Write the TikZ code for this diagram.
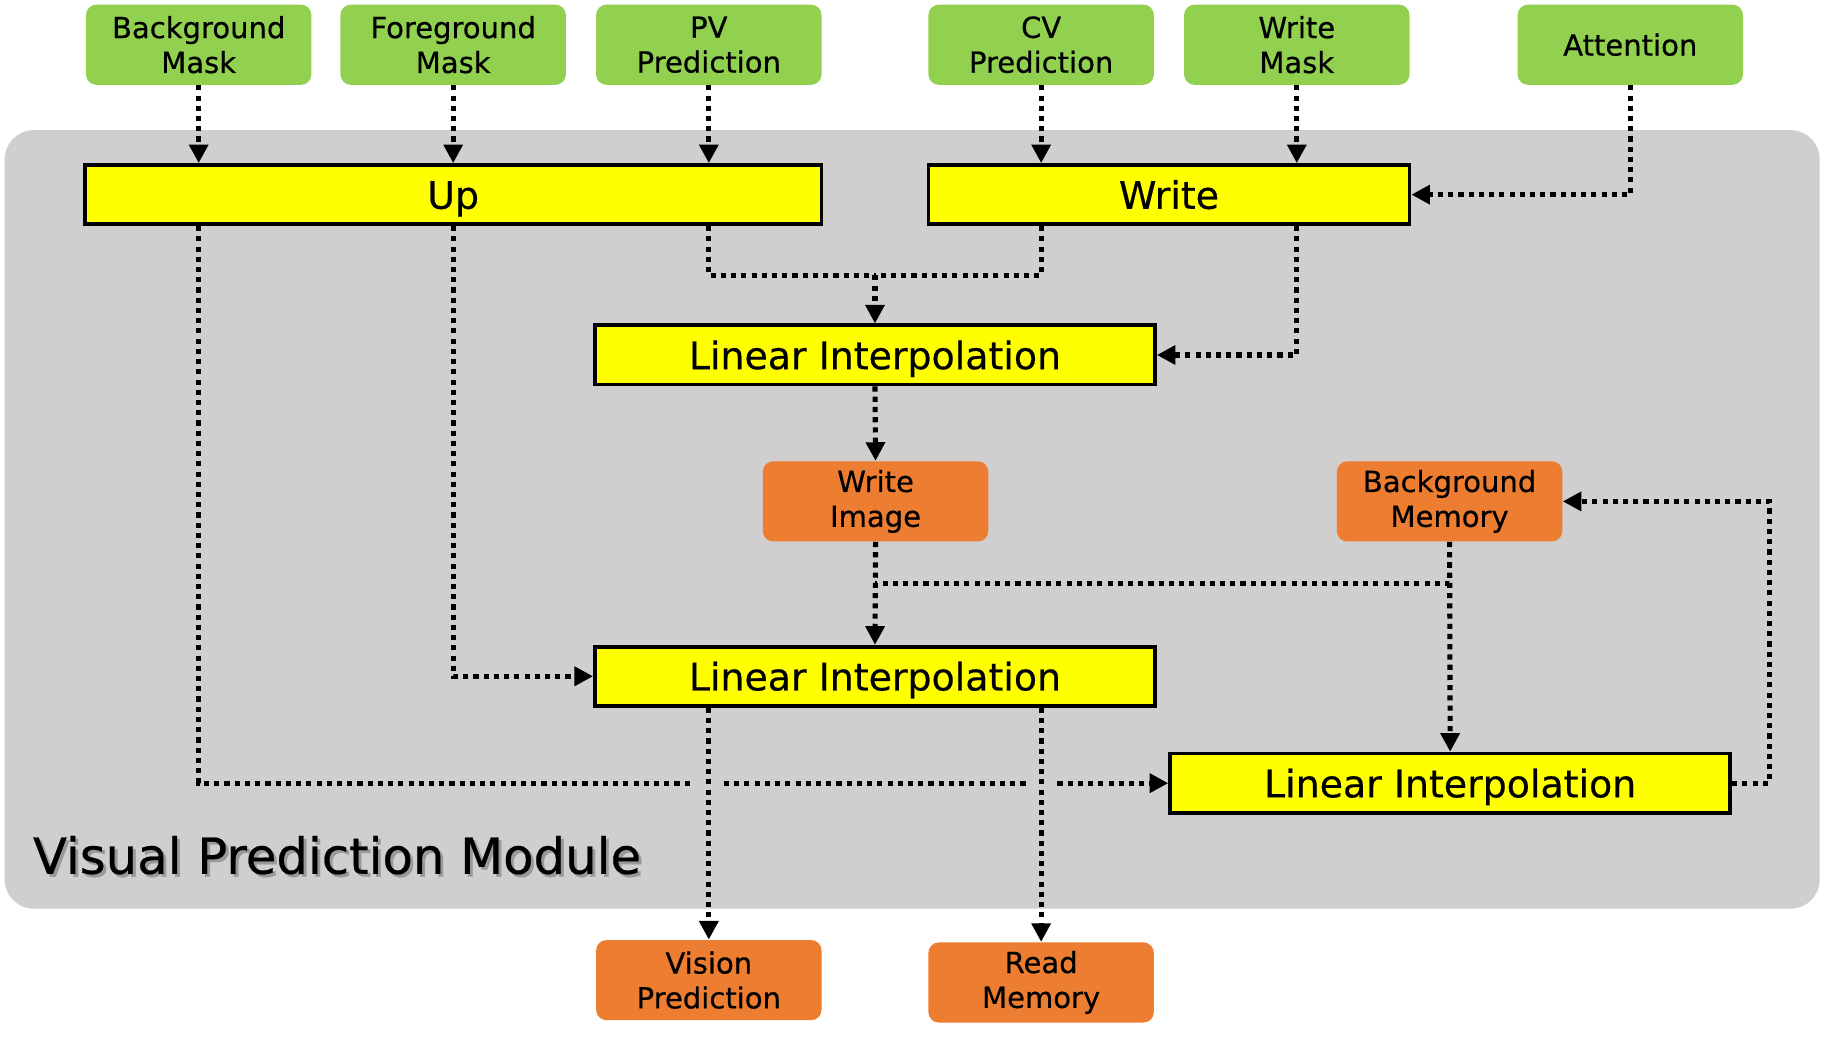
\documentclass[tikz,border=0pt]{standalone}
\usepackage{fontspec}
\setmainfont{DejaVu Sans}[FakeBold=0.5]
\usetikzlibrary{arrows.meta,calc}
\definecolor{grn}{HTML}{92D050}
\definecolor{org}{HTML}{ED7D31}
\definecolor{panel}{HTML}{D0CECE}
\definecolor{ylw}{HTML}{FFFF00}
\begin{document}
\begin{tikzpicture}[x=0.5pt,y=-0.5pt,
  smallbox/.style={rounded corners=4.5pt, minimum width=97pt, minimum height=34.5pt, inner sep=0pt, align=center,
     font=\fontsize{12.5}{15}\selectfont},
  inbox/.style={smallbox, fill=grn},
  outbox/.style={smallbox, fill=org},
  proc/.style={draw=black, line width=1.6pt, fill=ylw, minimum height=25.5pt, inner sep=0pt,
     text height=12.2pt, text depth=0pt,
     font=\fontsize{16.3}{18}\selectfont},
  link/.style={line width=2.2pt, dash pattern=on 2.2pt off 2.2pt, line cap=butt},
  arr/.style={link, -{Triangle[length=8pt,width=8pt]}}
]
\useasboundingbox (0,0) rectangle (1568,892);
\fill[white] (0,0) rectangle (1568,892);
\fill[panel, rounded corners=12.5pt] (4,112) rectangle (1566,782);

% input nodes
\node[inbox] (BgM) at (171,38.5) {Background\\Mask};
\node[inbox] (FgM) at (390,38.5) {Foreground\\Mask};
\node[inbox] (PV)  at (610,38.5) {PV\\Prediction};
\node[inbox] (CV)  at (896,38.5) {CV\\Prediction};
\node[inbox] (WM)  at (1116,38.5) {Write\\Mask};
\node[inbox] (Att) at (1403,38.5) {Attention};

% processing nodes
\node[proc, minimum width=317pt] (Up) at (390,167.5) {Up};
\node[proc, minimum width=207pt] (Wr) at (1006,167.5) {Write};
\node[proc, minimum width=241pt] (LI1) at (753,305.5) {Linear Interpolation};
\node[proc, minimum width=241pt] (LI2) at (753,582) {Linear Interpolation};
\node[proc, minimum width=241pt] (LI3) at (1248,674) {Linear Interpolation};

% memory / output nodes
\node[outbox] (WI) at (753.5,431.5) {Write\\Image};
\node[outbox] (BgMem) at (1247.5,431.5) {Background\\Memory};
\node[outbox] (VP) at (610,843.5) {Vision\\Prediction};
\node[outbox] (RM) at (896,845.5) {Read\\Memory};

% module label with shadow
\node[anchor=west, inner sep=0pt, text=black!40, font=\fontsize{21.4}{24}\selectfont] at (30.5,738.5) {Visual Prediction Module};
\node[anchor=west, inner sep=0pt, font=\fontsize{21.4}{24}\selectfont] (lbl) at (28,736) {Visual Prediction Module};

% connectors
\draw[arr] (BgM.south) -- (BgM.south |- Up.north);
\draw[arr] (FgM.south) -- (FgM.south |- Up.north);
\draw[arr] (PV.south) -- (PV.south |- Up.north);
\draw[arr] (CV.south) -- (CV.south |- Wr.north);
\draw[arr] (WM.south) -- (WM.south |- Wr.north);
\draw[arr] (Att.south) |- (Wr.east);

\coordinate (j1) at (753,237);
\draw[link] (PV.south |- Up.south) |- (j1);
\draw[link] (CV.south |- Wr.south) |- (j1);
\draw[arr] (j1) -- (LI1.north);
\draw[arr] (WM.south |- Wr.south) |- (LI1.east);

\draw[arr] (LI1.south) -- (WI.north);
\draw[arr] (WI.south) -- (LI2.north);
\coordinate (j2) at (753,502);
\draw[link] (BgMem.south) |- (j2);
\draw[arr] (BgMem.south) -- (LI3.north);

\draw[arr] (FgM.south |- Up.south) |- (LI2.west);

\coordinate (g1) at (597,674);
\coordinate (g2) at (623,674);
\coordinate (g3) at (883,674);
\coordinate (g4) at (910,674);
\draw[link] (BgM.south |- Up.south) |- (g1);
\draw[link] (g2) -- (g3);
\draw[arr] (g4) -- (LI3.west);

\draw[arr] (VP.north |- LI2.south) -- (VP.north);
\draw[arr] (RM.north |- LI2.south) -- (RM.north);

\draw[arr] (LI3.east) -- ++(32,0) |- (BgMem.east);
\end{tikzpicture}
\end{document}
